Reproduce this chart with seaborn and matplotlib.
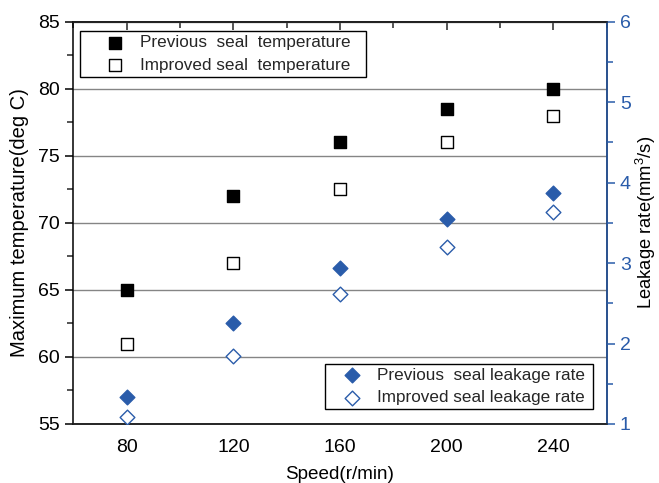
import numpy as np
import pandas as pd
import matplotlib
matplotlib.use("Agg")
import matplotlib.pyplot as plt
import seaborn as sns
from matplotlib.ticker import MultipleLocator
from matplotlib.patches import Rectangle

speed = [80, 120, 160, 200, 240]
prev_temp = [65, 72, 76, 78.5, 80]
impr_temp = [61, 67, 72.5, 76, 78]
prev_leak = [1.34, 2.26, 2.94, 3.55, 3.87]
impr_leak = [1.09, 1.85, 2.62, 3.20, 3.64]

sns.set_style("white")
plt.rcParams['font.family'] = ['Liberation Sans', 'DejaVu Sans']
plt.rcParams['mathtext.fontset'] = 'custom'
plt.rcParams['mathtext.rm'] = 'Liberation Sans'

blue = '#2a5caa'
fig = plt.figure(figsize=(6.59, 4.83), dpi=100)
ax1 = fig.add_axes([0.1113, 0.1222, 0.8093, 0.8328])
ax2 = ax1.twinx()

sns.scatterplot(x=speed, y=prev_temp, ax=ax1, marker='s', s=75, color='black',
                edgecolor='black', linewidth=1, label='Previous  seal  temperature', zorder=3)
sns.scatterplot(x=speed, y=impr_temp, ax=ax1, marker='s', s=75, color='white',
                edgecolor='black', linewidth=1, label='Improved seal  temperature', zorder=3)
sns.scatterplot(x=speed, y=prev_leak, ax=ax2, marker='D', s=56, color=blue,
                edgecolor=blue, linewidth=1, label='Previous  seal leakage rate', zorder=3)
sns.scatterplot(x=speed, y=impr_leak, ax=ax2, marker='D', s=56, color='white',
                edgecolor=blue, linewidth=1, label='Improved seal leakage rate', zorder=3)

ax1.set_xlim(60, 260)
ax1.set_ylim(55, 85)
ax2.set_ylim(1, 6)
ax1.set_xticks(speed)
ax1.xaxis.set_minor_locator(MultipleLocator(20))
ax1.yaxis.set_major_locator(MultipleLocator(5))
ax1.yaxis.set_minor_locator(MultipleLocator(2.5))
ax2.yaxis.set_major_locator(MultipleLocator(1))
ax2.yaxis.set_minor_locator(MultipleLocator(0.5))

ax1.grid(axis='y', which='major', color='#858585', linewidth=1)
ax1.set_axisbelow(True)

fs = 14
ax1.tick_params(axis='both', which='major', length=6, width=1.1, direction='out', labelsize=fs, colors='black')
ax1.tick_params(axis='both', which='minor', length=4, width=1.1, direction='out')
ax1.tick_params(axis='x', which='both', top=False, pad=5)
ax2.tick_params(axis='y', which='major', length=6, width=1.1, direction='out', labelsize=fs, colors=blue)
ax2.tick_params(axis='y', which='minor', length=4, width=1.1, direction='out', colors=blue)

# top ticks pointing inward
sec = ax1.secondary_xaxis('top')
sec.set_xticks(speed)
sec.xaxis.set_minor_locator(MultipleLocator(20))
sec.tick_params(which='major', direction='in', length=6, width=1.1, labeltop=False)
sec.tick_params(which='minor', direction='in', length=4, width=1.1)
sec.spines['top'].set_linewidth(1.1)

for sp in ax1.spines.values():
    sp.set_linewidth(1.1)
    sp.set_color('black')
for sp in ax2.spines.values():
    sp.set_linewidth(1.1)
ax2.spines['right'].set_color(blue)
ax2.spines['left'].set_visible(False)

ax1.set_xlabel('Speed(r/min)', fontsize=13.6, color='black', labelpad=7)
ax1.set_ylabel('Maximum temperature(deg C)', fontsize=14.5, color='black', labelpad=7)
ax2.set_ylabel('Leakage rate(mm$^3$/s)', fontsize=13.2, color='black', labelpad=2)

lfs = 12.3
common = dict(fontsize=lfs, frameon=False, borderpad=0, handlelength=1.0,
              handletextpad=0.97, labelspacing=0.43, borderaxespad=0, loc='upper left')
leg1 = ax1.legend(bbox_to_anchor=(0.0622, 0.966), **common)
leg2 = ax2.legend(bbox_to_anchor=(0.506, 0.140), **common)
leg1.set_zorder(6)
leg2.set_zorder(6)

fig.canvas.draw()
renderer = fig.canvas.get_renderer()

def frame(ax, leg, pl, pr, pt, pb):
    bb = leg.get_window_extent(renderer)
    inv = ax.transAxes.inverted()
    (x0, y0) = inv.transform((bb.x0 - pl, bb.y0 - pb))
    (x1, y1) = inv.transform((bb.x1 + pr, bb.y1 + pt))
    r = Rectangle((x0, y0), x1 - x0, y1 - y0, transform=ax.transAxes,
                  facecolor='white', edgecolor='black', linewidth=1, zorder=5, clip_on=False)
    ax.add_patch(r)

frame(ax1, leg1, 26.5, 15, 4, 4)
frame(ax2, leg2, 18, 8, 4, 4)

fig.savefig('out.png', dpi=100)
